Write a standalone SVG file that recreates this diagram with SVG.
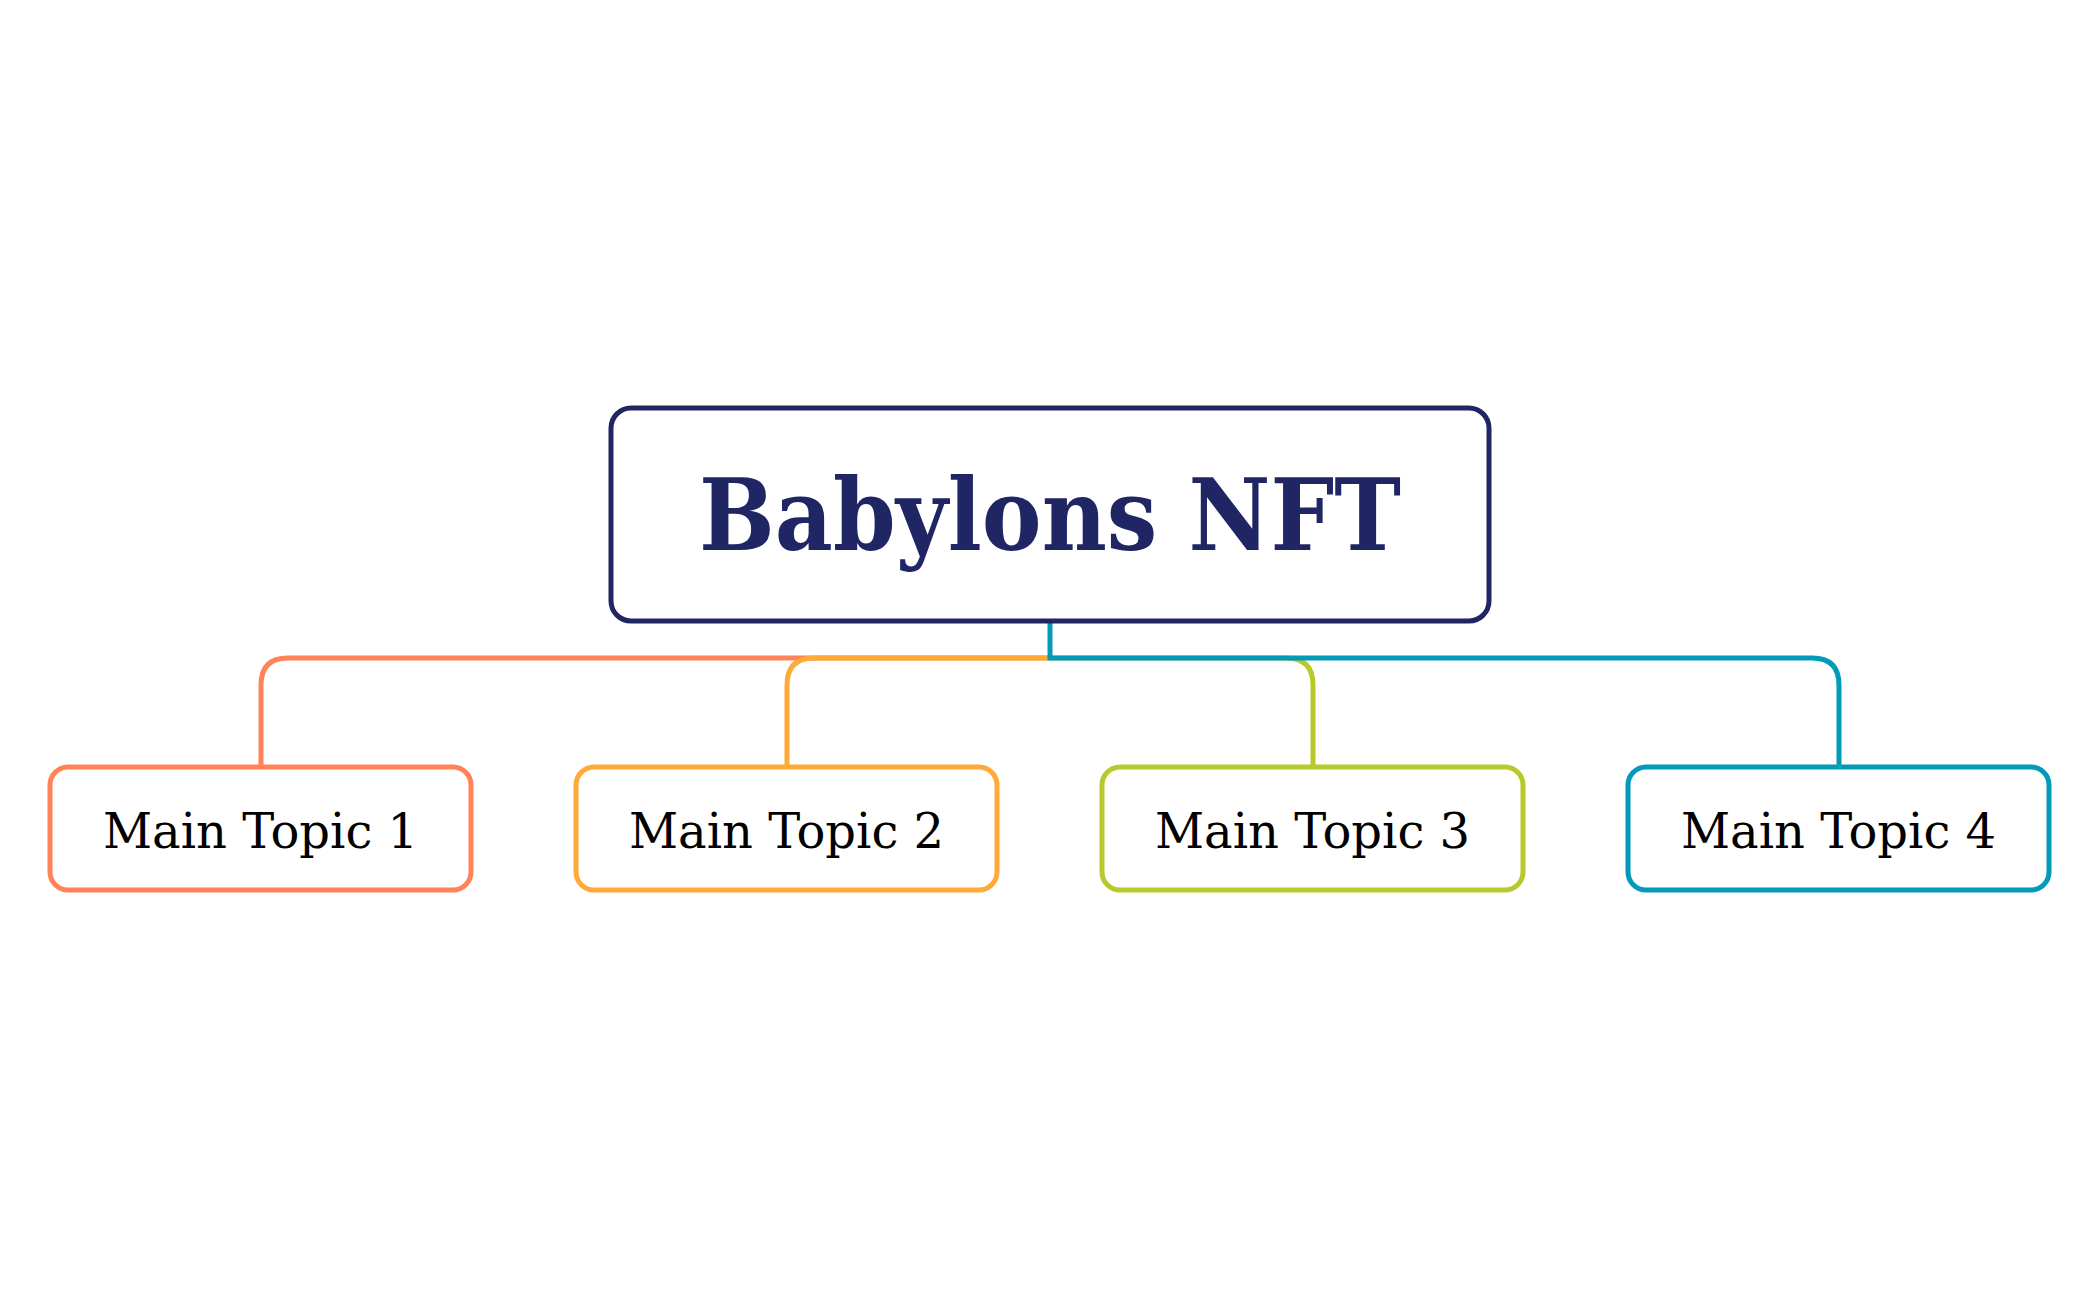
<svg xmlns="http://www.w3.org/2000/svg" width="2100" height="1299" viewBox="0 0 2100 1299">
<style>
.box{fill:#ffffff;stroke-width:5}
.conn{fill:none;stroke-width:5}
.topic{font-family:"DejaVu Serif","Liberation Serif",serif;font-size:48px;fill:#000000;text-anchor:middle}
.title{font-family:"DejaVu Serif","Liberation Serif",serif;font-weight:bold;font-size:100px;fill:#1f2663;text-anchor:middle}
</style>
<rect width="2100" height="1299" fill="#ffffff"/>
<g id="connectors">
<path class="conn" stroke="#ff8356" d="M1050,658 H288 Q261,658 261,685 V767"/>
<path class="conn" stroke="#ffaa38" d="M1050,658 H814 Q787,658 787,685 V767"/>
<path class="conn" stroke="#b7c92d" d="M1050,658 H1286 Q1313,658 1313,685 V767"/>
<path class="conn" stroke="#039ab9" d="M1050,621 V658 H1812 Q1839,658 1839,685 V767"/>
</g>
<g id="root">
<rect class="box" stroke="#1f2663" x="611" y="408" width="878" height="213" rx="20"/>
<text class="title" x="1050" y="550" textLength="702" lengthAdjust="spacingAndGlyphs">Babylons NFT</text>
</g>
<g id="topic1">
<rect class="box" stroke="#ff8356" x="50" y="767" width="421" height="123" rx="18"/>
<text class="topic" x="260.5" y="848">Main Topic 1</text>
</g>
<g id="topic2">
<rect class="box" stroke="#ffaa38" x="576" y="767" width="421" height="123" rx="18"/>
<text class="topic" x="786.5" y="848">Main Topic 2</text>
</g>
<g id="topic3">
<rect class="box" stroke="#b7c92d" x="1102" y="767" width="421" height="123" rx="18"/>
<text class="topic" x="1312.5" y="848">Main Topic 3</text>
</g>
<g id="topic4">
<rect class="box" stroke="#039ab9" x="1628" y="767" width="421" height="123" rx="18"/>
<text class="topic" x="1838.5" y="848">Main Topic 4</text>
</g>
</svg>
